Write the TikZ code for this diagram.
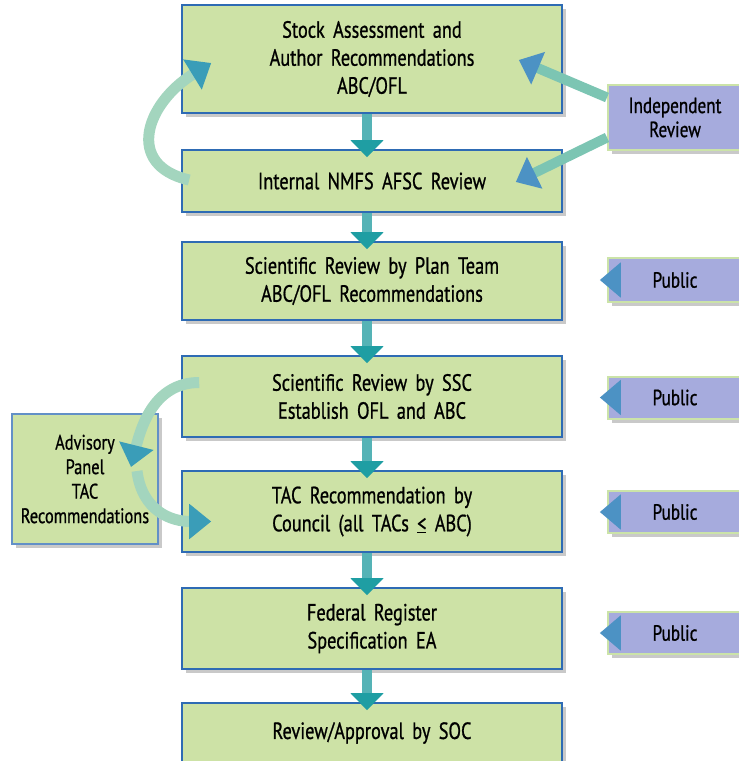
\documentclass[tikz,border=0pt]{standalone}
\usepackage{fontspec}
\setmainfont{PT Sans}[FakeStretch=0.78, FakeBold=0.8, WordSpace=1.7]
\usetikzlibrary{arrows.meta,shadows,calc}

\definecolor{boxgreen}{HTML}{CDE2A6}
\definecolor{boxblue}{HTML}{2E6BB4}
\definecolor{publav}{HTML}{A6ABDD}
\definecolor{pubedge}{HTML}{CBE3A8}
\definecolor{flowteal}{HTML}{1F9EA3}
\definecolor{flowshaft}{HTML}{55B3B6}
\definecolor{sideshaft}{HTML}{7CC5B3}
\definecolor{sidetip}{HTML}{4C92C4}
\definecolor{loopshaft}{HTML}{A3D5BE}
\definecolor{looptip}{HTML}{3A9DB8}

\newcommand{\lesseq}{\underline{<}}

\tikzset{
  stepbox/.style={draw=boxblue, line width=1.6pt, fill=boxgreen, minimum width=380pt,
    align=center, font=\fontsize{23.5}{28}\selectfont,
    drop shadow={shadow xshift=4pt, shadow yshift=-4pt, opacity=0.3, fill=black!70}},
  inputbox/.style={draw=pubedge, line width=2pt, fill=publav, minimum width=134pt,
    align=center, font=\fontsize{22}{24}\selectfont,
    drop shadow={shadow xshift=4pt, shadow yshift=-4pt, opacity=0.3, fill=black!70}},
  flow/.style={draw=flowshaft, line width=10pt, shorten >=-8pt,
    -{Triangle[width=32pt,length=17pt,color=flowteal]}},
  feed/.style={draw=sideshaft, line width=10pt,
    -{Triangle[width=34pt,length=21pt,color=sidetip]}},
  loopy/.style={draw=loopshaft, line width=11pt,
    -{Triangle[width=34pt,length=22pt,color=looptip]}}
}

\begin{document}
\begin{tikzpicture}[x=1pt,y=-1pt]
  \useasboundingbox (0,0) rectangle (739,761);

  % Main steps
  \node[stepbox, minimum height=108pt] (stock) at (372,59)
    {Stock Assessment and\\Author Recommendations\\ABC/OFL};
  \node[stepbox, minimum height=62pt] (internal) at (372,181) {Internal NMFS AFSC Review};
  \node[stepbox, minimum height=78pt] (plan) at (372,281)
    {Scientific Review by Plan Team\\ABC/OFL Recommendations};
  \node[stepbox, minimum height=81pt] (ssc) at (372,396.5)
    {Scientific Review by SSC\\Establish OFL and ABC};
  \node[stepbox, minimum height=81pt] (council) at (372,511.5)
    {TAC Recommendation by\\Council (all TACs \lesseq{} ABC)};
  \node[stepbox, minimum height=81pt] (register) at (372,628.5)
    {Federal Register\\Specification EA};
  \node[stepbox, minimum height=60pt] (soc) at (372,733) {Review/Approval by SOC};

  % Inputs
  \node[inputbox, minimum height=65pt] (indep) at (675,117.5) {Independent\\Review};
  \node[inputbox, minimum height=44pt] (pub1) at (675,280) {Public};
  \node[inputbox, minimum height=42pt] (pub2) at (675,397.5) {Public};
  \node[inputbox, minimum height=42pt] (pub3) at (675,512) {Public};
  \node[inputbox, minimum height=42pt] (pub4) at (675,633) {Public};
  \node[stepbox, minimum width=146pt, minimum height=130pt, draw=boxblue!75,
    font=\fontsize{21}{24.5}\selectfont] (advisory) at (85,479)
    {Advisory\\Panel\\TAC\\Recommendations};

  % Flow down
  \draw[flow] ([xshift=-5pt]stock.south) -- ([xshift=-5pt]internal.north);
  \draw[flow] ([xshift=-5pt]internal.south) -- ([xshift=-5pt]plan.north);
  \draw[flow] ([xshift=-5pt]plan.south) -- ([xshift=-5pt]ssc.north);
  \draw[flow] ([xshift=-5pt]ssc.south) -- ([xshift=-5pt]council.north);
  \draw[flow] ([xshift=-5pt]council.south) -- ([xshift=-5pt]register.north);
  \draw[flow] ([xshift=-5pt]register.south) -- ([xshift=-5pt]soc.north);

  % Public input
  \draw[feed, shorten >=37pt] (pub1.west) -- (pub1.west -| plan.east);
  \draw[feed, shorten >=37pt] (pub2.west) -- (pub2.west -| ssc.east);
  \draw[feed, shorten >=37pt] (pub3.west) -- (pub3.west -| council.east);
  \draw[feed, shorten >=37pt] (pub4.west) -- (pub4.west -| register.east);

  % Independent review
  \draw[feed] ($(indep.west)+(0,-20)$) -- ($(stock.east)+(-44,1)$);
  \draw[feed] ($(indep.west)+(0,20)$) -- ($(internal.east)+(-47,1)$);

  % Loops
  \draw[loopy] ($(internal.west)+(8,-1)$) .. controls +(-65,-15) and +(-65,40) .. ($(stock.west)+(30,4)$);
  \draw[loopy] ($(ssc.west)+(18,-14)$) .. controls +(-45,0) and +(10,-40) .. ($(advisory.center)+(46,-12)$);
  \draw[loopy] ($(advisory.center)+(52,-8)$) .. controls +(5,40) and +(-40,0) .. ($(council.west)+(30,10)$);
\end{tikzpicture}
\end{document}
